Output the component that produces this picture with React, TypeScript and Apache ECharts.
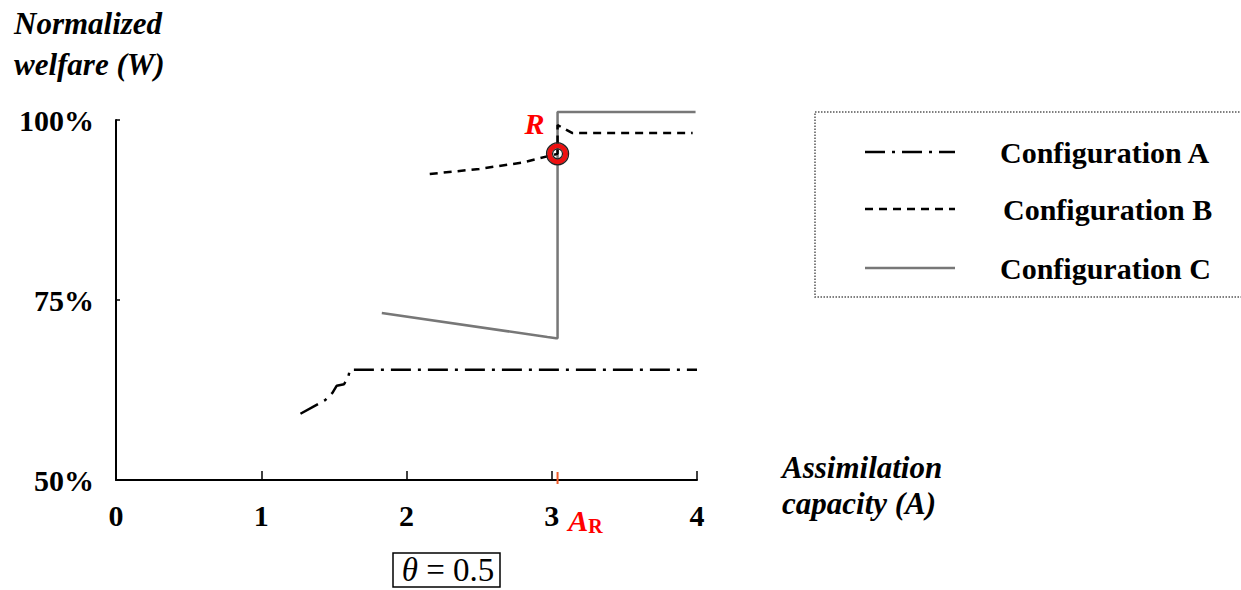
import React, { useEffect, useRef } from "react";
import * as echarts from "echarts";

// Configuration A (dash-dot)
const xA = [1.27, 1.44, 1.49, 1.52, 1.57, 1.6, 1.61, 4.0];
const yA = [59.2, 61.1, 62.1, 63.1, 63.3, 64.4, 65.3, 65.3];
// Configuration B (dashed)
const xB = [2.16, 2.5, 2.8, 3.04, 3.04, 3.14, 3.97];
const yB = [92.5, 93.2, 94.1, 95.3, 99.3, 98.2, 98.2];
// Configuration C (solid grey)
const xC = [1.83, 2.97, 3.03, 3.04, 3.04, 3.99];
const yC = [73.2, 69.85, 69.7, 69.7, 101.1, 101.1];
// Point R
const AR = 3.04;
const WR = 95.3;
const xTicks = [0, 1, 2, 3, 4];
const yTicks = [50, 75, 100];
const legendNames = ["Configuration A", "Configuration B", "Configuration C"];

const SERIF = "'Liberation Serif', 'Times New Roman', serif";
const RED = "#ff0000";

const zip = (xs: number[], ys: number[]) => xs.map((x, i) => [x, ys[i]]);

export default function App() {
  const ref = useRef<HTMLDivElement>(null);
  useEffect(() => {
    if (!ref.current) return;
    const chart = echarts.init(ref.current, null, { renderer: "svg" });
    const lineBase = { type: "line", symbol: "none", clip: false, silent: true };
    const legendY = [152, 209, 268];
    const legendStyles = [
      { stroke: "#000", lineWidth: 2.5, lineDash: [20, 7, 3, 7] },
      { stroke: "#000", lineWidth: 2.5, lineDash: [8, 6] },
      { stroke: "#777", lineWidth: 2.5 },
    ];
    const legendGraphics: any[] = [];
    legendNames.forEach((n, i) => {
      legendGraphics.push({
        type: "line",
        shape: { x1: 865, y1: legendY[i], x2: 955, y2: legendY[i] },
        style: legendStyles[i],
      });
      legendGraphics.push({
        type: "text",
        x: i === 1 ? 1003 : 1000,
        y: legendY[i],
        style: {
          text: n,
          font: `bold 30px ${SERIF}`,
          fill: "#000",
          textVerticalAlign: "middle",
        },
      });
    });

    const ring = (size: number, color: string, bw: number, z: number) => ({
      type: "scatter",
      silent: true,
      clip: false,
      z,
      data: [[AR, WR]],
      symbolSize: size,
      itemStyle: { color: "rgba(0,0,0,0)", borderColor: color, borderWidth: bw, opacity: 1 },
    });

    chart.setOption({
      animation: false,
      grid: { left: 116, right: 544, top: 120, bottom: 110 },
      xAxis: {
        type: "value",
        min: 0,
        max: 4,
        interval: 1,
        axisLine: { lineStyle: { color: "#000", width: 2 } },
        axisTick: { inside: true, length: 9, lineStyle: { color: "#000", width: 1.5 } },
        splitLine: { show: false },
        axisLabel: {
          margin: 20,
          color: "#000",
          fontFamily: SERIF,
          fontWeight: "bold",
          fontSize: 30,
          customValues: xTicks,
        },
      },
      yAxis: {
        type: "value",
        min: 50,
        max: 100,
        interval: 25,
        axisLine: { show: true, lineStyle: { color: "#000", width: 2 } },
        axisTick: { show: true, inside: true, length: 4, lineStyle: { color: "#000", width: 1.5 } },
        splitLine: { show: false },
        axisLabel: {
          margin: 22,
          color: "#000",
          fontFamily: SERIF,
          fontWeight: "bold",
          fontSize: 30,
          formatter: (v: number) => (yTicks.includes(v) ? `${v}%` : ""),
        },
      },
      series: [
        {
          ...lineBase,
          name: legendNames[2],
          data: zip(xC, yC),
          lineStyle: { color: "#777", width: 2.5 },
          z: 2,
        },
        {
          ...lineBase,
          name: legendNames[1],
          data: zip(xB, yB),
          lineStyle: { color: "#000", width: 2.5, type: [8, 6] },
          z: 3,
        },
        {
          ...lineBase,
          name: legendNames[0],
          data: zip(xA, yA),
          lineStyle: { color: "#000", width: 2.5, type: [20, 7, 3, 7] },
          z: 3,
        },
        // point R marker: red ring with dark outlines
        ring(16, "#ee1111", 5, 5),
        ring(22, "#222", 1.3, 6),
        ring(10, "#222", 1.3, 6),
        // label R
        {
          type: "scatter",
          silent: true,
          clip: false,
          z: 7,
          data: [[AR, WR]],
          symbolSize: 0,
          itemStyle: { opacity: 1 },
          label: {
            show: true,
            position: "inside",
            offset: [-23, -30],
            formatter: "R",
            color: RED,
            fontFamily: SERIF,
            fontStyle: "italic",
            fontWeight: "bold",
            fontSize: 30,
          },
        },
        // label A_R
        {
          type: "scatter",
          silent: true,
          clip: false,
          z: 7,
          data: [[AR, 50]],
          symbolSize: 0,
          itemStyle: { opacity: 1 },
          label: {
            show: true,
            position: "inside",
            offset: [28, 40],
            formatter: "{a|A}{s|R}",
            rich: {
              a: {
                color: RED,
                fontFamily: SERIF,
                fontStyle: "italic",
                fontWeight: "bold",
                fontSize: 30,
              },
              s: {
                color: RED,
                fontFamily: SERIF,
                fontWeight: "bold",
                fontSize: 20,
                verticalAlign: "bottom",
                padding: [12, 0, 0, 0],
              },
            },
          },
        },
      ],
      graphic: [
        {
          type: "text",
          x: 14,
          y: 23,
          style: {
            text: "Normalized",
            font: `italic bold 31px ${SERIF}`,
            fill: "#000",
            textVerticalAlign: "middle",
          },
        },
        {
          type: "text",
          x: 14,
          y: 64,
          style: {
            text: "welfare (W)",
            font: `italic bold 31px ${SERIF}`,
            fill: "#000",
            textVerticalAlign: "middle",
          },
        },
        {
          type: "text",
          x: 782,
          y: 467,
          style: {
            text: "Assimilation",
            font: `italic bold 31px ${SERIF}`,
            fill: "#000",
            textVerticalAlign: "middle",
          },
        },
        {
          type: "text",
          x: 782,
          y: 503,
          style: {
            text: "capacity (A)",
            font: `italic bold 31px ${SERIF}`,
            fill: "#000",
            textVerticalAlign: "middle",
          },
        },
        {
          type: "rect",
          shape: { x: 815, y: 112, width: 460, height: 185 },
          style: { fill: "none", stroke: "#555", lineWidth: 1.5, lineDash: [1.5, 1.5] },
        },
        ...legendGraphics,
        {
          type: "rect",
          shape: { x: 393, y: 553, width: 107, height: 34 },
          style: { fill: "#fff", stroke: "#000", lineWidth: 1.5 },
        },
        {
          type: "text",
          x: 448,
          y: 570,
          style: {
            text: "{i|θ} = 0.5",
            rich: {
              i: { fontFamily: SERIF, fontStyle: "italic", fontSize: 33, fill: "#000" },
            },
            font: `33px ${SERIF}`,
            fill: "#000",
            textAlign: "center",
            textVerticalAlign: "middle",
          },
        },
      ],
    });

    // red tick marking A_R on the x axis, positioned through the axis scale
    const p = chart.convertToPixel({ gridIndex: 0 }, [AR, 50]) as number[];
    if (p) {
      chart.setOption({
        graphic: [
          {
            id: "arTick",
            type: "line",
            z: 10,
            shape: { x1: p[0], y1: p[1] - 8, x2: p[0], y2: p[1] + 4 },
            style: { stroke: "#f05a28", lineWidth: 2 },
          },
        ],
      });
    }
    return () => chart.dispose();
  }, []);
  return (
    <div
      ref={ref}
      style={{ position: "absolute", left: 0, top: 0, width: 1241, height: 590, background: "#fff" }}
    />
  );
}
